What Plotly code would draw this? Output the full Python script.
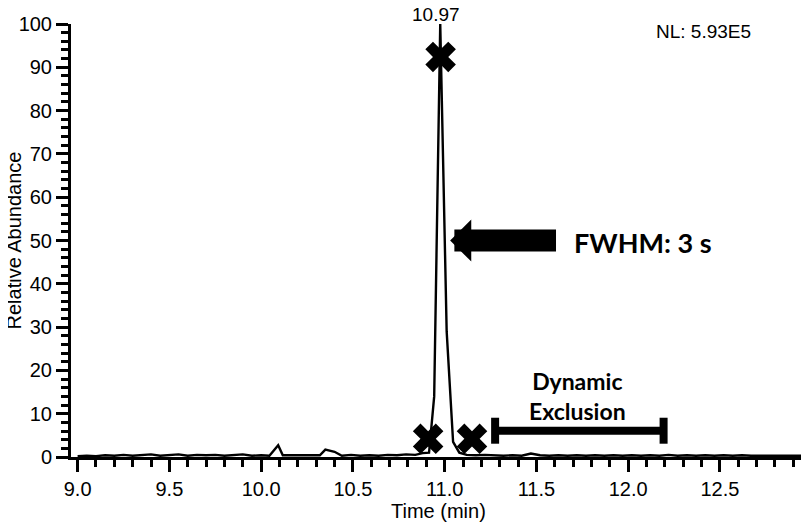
import plotly.graph_objects as go

# ---- data ----
time_min = [9.00, 9.05, 9.10, 9.15, 9.20, 9.25, 9.30, 9.35, 9.40, 9.45,
            9.50, 9.55, 9.60, 9.65, 9.70, 9.75, 9.80, 9.85, 9.90, 9.95,
            10.00, 10.045, 10.093, 10.118, 10.17, 10.22, 10.27, 10.32, 10.35, 10.40,
            10.44, 10.49, 10.54, 10.59, 10.64, 10.69, 10.74, 10.79, 10.84, 10.88,
            10.915, 10.943, 10.976, 11.011, 11.046, 11.08, 11.12, 11.17, 11.22, 11.27,
            11.32, 11.37, 11.42, 11.47, 11.52, 11.57, 11.62, 11.67, 11.72, 11.77,
            11.82, 11.87, 11.92, 11.97, 12.02, 12.07, 12.12, 12.17, 12.22, 12.27,
            12.32, 12.37, 12.42, 12.47, 12.52, 12.57, 12.62, 12.67, 12.72, 12.77,
            12.82, 12.87, 12.92, 12.96]
abundance = [0.2, 0.3, 0.2, 0.4, 0.3, 0.5, 0.3, 0.4, 0.6, 0.3,
             0.4, 0.6, 0.3, 0.5, 0.4, 0.5, 0.3, 0.4, 0.6, 0.3,
             0.4, 0.3, 2.7, 0.4, 0.4, 0.3, 0.4, 0.4, 1.7, 1.2,
             0.3, 0.5, 0.3, 0.4, 0.3, 0.5, 0.4, 0.6, 0.5, 0.9,
             1.0, 14.0, 100.0, 29.0, 3.5, 1.0, 0.5, 0.4, 0.5, 0.4,
             0.3, 0.4, 0.3, 0.8, 0.4, 0.3, 0.4, 0.3, 0.4, 0.3,
             0.4, 0.3, 0.4, 0.3, 0.4, 0.3, 0.4, 0.3, 0.5, 0.3,
             0.4, 0.3, 0.4, 0.3, 0.4, 0.3, 0.4, 0.3, 0.3, 0.4,
             0.3, 0.4, 0.3, 0.3]

trigger_time = [10.91, 10.978, 11.149]
trigger_abund = [4.2, 92.4, 4.2]

excl_time = [11.275, 12.193]
excl_level = [6.07, 6.07]
excl_cap = [3.0, 3.0]

peak_label_time = 10.97
peak_label_abund = 100
arrow_tip = (11.030, 50.0)
arrow_tail = (11.615, 50.0)
fwhm_pos = (11.695, 49.6)
excl_text_pos = (11.722, 7.0)

x_ticks = [9.0, 9.5, 10.0, 10.5, 11.0, 11.5, 12.0, 12.5]
x_tick_text = ["9.0", "9.5", "10.0", "10.5", "11.0", "11.5", "12.0", "12.5"]
y_ticks = [0, 10, 20, 30, 40, 50, 60, 70, 80, 90, 100]

AX = "Liberation Sans, Arial, sans-serif"
BOLD = "Lato, Carlito, Calibri, sans-serif"

fig = go.Figure()
fig.add_trace(go.Scatter(x=time_min, y=abundance, mode="lines",
                         line=dict(color="black", width=2.4),
                         cliponaxis=False, showlegend=False, hoverinfo="skip"))
fig.add_trace(go.Scatter(x=trigger_time, y=trigger_abund, mode="markers",
                         marker=dict(symbol="x", size=27, color="black",
                                     line=dict(width=0)),
                         cliponaxis=False, showlegend=False))
fig.add_trace(go.Scatter(x=excl_time, y=excl_level, mode="lines",
                         line=dict(color="black", width=8),
                         error_y=dict(type="data", array=excl_cap, symmetric=True,
                                      thickness=8, width=0, color="black"),
                         showlegend=False))

fig.add_annotation(x=peak_label_time, y=peak_label_abund, text="10.97",
                   showarrow=False, yanchor="bottom", xanchor="center",
                   font=dict(family=AX, size=19, color="black"), yshift=-3, xshift=-3)
fig.add_annotation(x=arrow_tip[0], y=arrow_tip[1], ax=arrow_tail[0], ay=arrow_tail[1],
                   axref="x", ayref="y", text=" ", font=dict(size=1),
                   showarrow=True, arrowhead=1, arrowwidth=22, arrowsize=0.32,
                   arrowcolor="black", standoff=0)
fig.add_annotation(x=fwhm_pos[0], y=fwhm_pos[1], text="<b>FWHM: 3 s</b>",
                   showarrow=False, xanchor="left", yanchor="middle",
                   font=dict(family=BOLD, size=27, color="black"))
fig.add_annotation(x=excl_text_pos[0], y=excl_text_pos[1],
                   text="<b>Dynamic</b><br><b>Exclusion</b>",
                   showarrow=False, xanchor="center", yanchor="bottom",
                   font=dict(family=BOLD, size=23, color="black"))
fig.add_annotation(x=0.86, y=1.0, xref="paper", yref="paper", text="NL: 5.93E5",
                   showarrow=False, xanchor="center", yanchor="middle",
                   font=dict(family=AX, size=19, color="black"), yshift=-7)
# axis titles placed as annotations for exact position
fig.add_annotation(x=-0.0776, y=0.5, xref="paper", yref="paper",
                   text="Relative Abundance", textangle=-90, showarrow=False,
                   xanchor="center", yanchor="middle",
                   font=dict(family=AX, size=20, color="black"))
fig.add_annotation(x=0.5, y=0, xref="paper", yref="paper",
                   text="Time (min)", showarrow=False,
                   xanchor="center", yanchor="middle", yshift=-54, xshift=0,
                   font=dict(family=AX, size=20, color="black"))

fig.update_layout(
    width=801, height=518,
    margin=dict(l=63, r=3, t=16, b=69),
    paper_bgcolor="white", plot_bgcolor="white",
    font=dict(family=AX, size=20, color="black"),
    xaxis=dict(range=[8.964, 12.969], tickvals=x_ticks, ticktext=x_tick_text,
               automargin=False,
               showline=True, linecolor="black", linewidth=3, showgrid=False,
               zeroline=False, ticks="outside", ticklen=12, tickwidth=3,
               tickcolor="black",
               minor=dict(dtick=0.1, tick0=9.0, ticks="outside", ticklen=7,
                          tickwidth=2.5, tickcolor="black", showgrid=False)),
    yaxis=dict(range=[0, 100], tickvals=y_ticks, automargin=False,
               showline=True, linecolor="black", linewidth=3, showgrid=False,
               zeroline=False, ticks="outside", ticklen=12, tickwidth=3,
               tickcolor="black",
               minor=dict(dtick=2, tick0=0, ticks="outside", ticklen=7,
                          tickwidth=2.5, tickcolor="black", showgrid=False)),
)

fig.write_html("out.html")
